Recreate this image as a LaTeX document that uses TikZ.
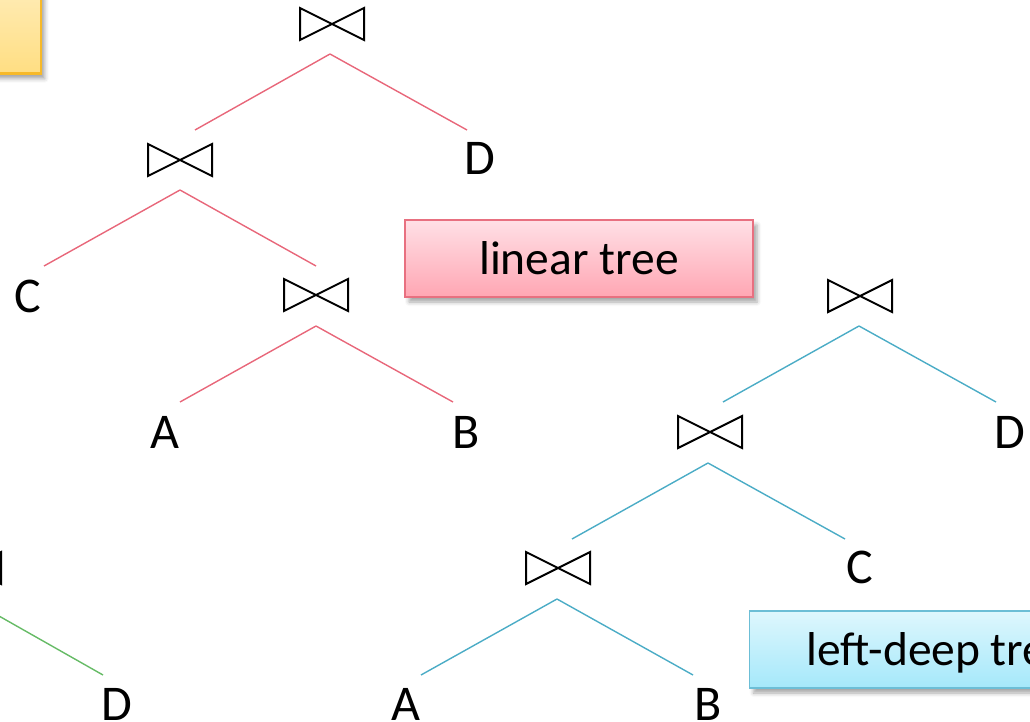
\documentclass[tikz,border=0pt]{standalone}
\usepackage{fontspec}
\setmainfont{Carlito}
\usetikzlibrary{calc,shadows.blur}

\definecolor{redline}{RGB}{232,103,122}
\definecolor{blueline}{RGB}{75,172,198}
\definecolor{greenline}{RGB}{102,187,102}
\definecolor{redtop}{RGB}{255,224,230}
\definecolor{redbot}{RGB}{255,166,179}
\definecolor{rededge}{RGB}{232,112,128}
\definecolor{bluetop}{RGB}{222,247,253}
\definecolor{bluebot}{RGB}{165,232,250}
\definecolor{blueedge}{RGB}{108,190,214}
\definecolor{yeltop}{RGB}{255,241,202}
\definecolor{yelbot}{RGB}{255,222,130}
\definecolor{yeledge}{RGB}{247,185,40}

\begin{document}
\begin{tikzpicture}[x=1pt,y=-1pt,
  joinop/.style={minimum width=64pt,minimum height=32pt,inner sep=0pt,outer sep=0pt},
  bowline/.style={draw=black,line width=2pt,line join=miter},
  leaf/.style={font=\fontsize{50}{50}\selectfont,anchor=base,inner sep=0pt,
    text height=32pt,text depth=0pt},
  tag/.style={font=\fontsize{47.5}{47.5}\selectfont,inner xsep=0pt,inner ysep=0pt,
    minimum height=77pt,text height=39pt,text depth=7pt,
    blur shadow={shadow xshift=4pt,shadow yshift=-5pt,shadow blur radius=4pt,shadow opacity=35}},
  redtree/.style={draw=redline,line width=1.4pt},
  bluetree/.style={draw=blueline,line width=1.4pt},
  greentree/.style={draw=greenline,line width=1.4pt}]
\useasboundingbox (0,0) rectangle (1030,722);
\clip (0,0) rectangle (1030,722);

% note box in the upper left corner
\node[tag,anchor=south east,minimum width=200pt,minimum height=120pt,
  top color=yeltop,bottom color=yelbot,draw=yeledge,line width=2.5pt] (note) at (42,75) {};

% linear tree
\node[joinop] (r1) at (332,24) {};
\node[joinop] (j1) at (180,160) {};
\node[joinop] (j2) at (316,295) {};
\node[leaf] (tD) at (480,175) {D};
\node[leaf] (tC) at (28,312) {C};
\node[leaf] (tA) at (165,448) {A};
\node[leaf] (tB) at (466,448) {B};

\draw[redtree] ($(r1)+(-2,30)$) -- ($(j1)+(15,-30)$);
\draw[redtree] ($(r1)+(-2,30)$) -- ($(tD)+(-13,-29)$);
\draw[redtree] ($(j1)+(0,30)$) -- ($(tC)+(16,-30)$);
\draw[redtree] ($(j1)+(0,30)$) -- ($(j2)+(0,-29)$);
\draw[redtree] ($(j2)+(0,31)$) -- ($(tA)+(15,-30)$);
\draw[redtree] ($(j2)+(0,31)$) -- ($(tB)+(-13,-30)$);

\node[tag,minimum width=348pt,top color=redtop,bottom color=redbot,
  draw=rededge,line width=1.2pt] (lin) at (579,258.5) {linear tree};

% left-deep tree
\node[joinop] (r2) at (860,296) {};
\node[joinop] (k1) at (710,432) {};
\node[joinop] (k2) at (558,568) {};
\node[leaf] (uD) at (1010,448) {D};
\node[leaf] (uC) at (860,583) {C};
\node[leaf] (uA) at (406,720) {A};
\node[leaf] (uB) at (708,720) {B};

\draw[bluetree] ($(r2)+(-1,30)$) -- ($(k1)+(13,-30)$);
\draw[bluetree] ($(r2)+(-1,30)$) -- ($(uD)+(-14,-30)$);
\draw[bluetree] ($(k1)+(-2,31)$) -- ($(k2)+(14,-29)$);
\draw[bluetree] ($(k1)+(-2,31)$) -- ($(uC)+(-15,-28)$);
\draw[bluetree] ($(k2)+(-1,31)$) -- ($(uA)+(15,-29)$);
\draw[bluetree] ($(k2)+(-1,31)$) -- ($(uB)+(-15,-29)$);

\node[tag,anchor=west,inner xsep=57pt,top color=bluetop,bottom color=bluebot,
  draw=blueedge,line width=1.2pt] (ldeep) at (749,649.5) {left-deep tree};

% third tree, at the left edge
\node[joinop] (g1) at (-31,568) {};
\node[leaf] (vD) at (117,720) {D};
\draw[greentree] ($(g1)+(0,31)$) -- ($(vD)+(-14,-29)$);

% join symbols
\foreach \n in {r1,j1,j2,r2,k1,k2,g1}
  \draw[bowline] (\n.north west) -- (\n.south east) -- (\n.north east)
    -- (\n.south west) -- cycle;
\end{tikzpicture}
\end{document}
